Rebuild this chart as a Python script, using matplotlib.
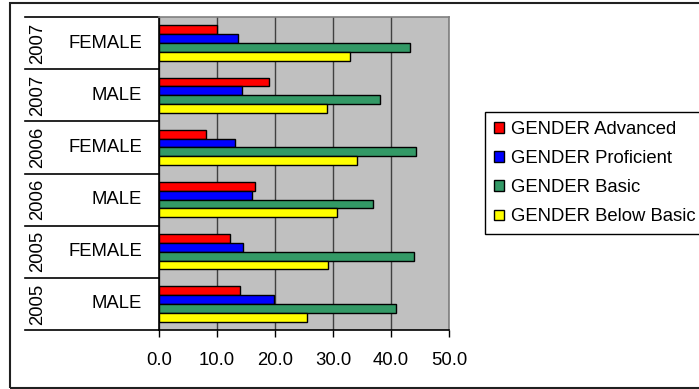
import numpy as np
import matplotlib
matplotlib.use("Agg")
import matplotlib.pyplot as plt
from matplotlib.patches import Rectangle

# Categories, bottom to top
years = ["2005", "2005", "2006", "2006", "2007", "2007"]
genders = ["MALE", "FEMALE", "MALE", "FEMALE", "MALE", "FEMALE"]

# Percent of students at each level
advanced = [14.0, 12.2, 16.5, 8.2, 19.0, 10.0]
proficient = [19.9, 14.5, 16.0, 13.2, 14.3, 13.7]
basic = [40.8, 44.0, 36.8, 44.2, 38.0, 43.3]
below_basic = [25.5, 29.2, 30.7, 34.2, 29.0, 33.0]

series = [
    ("GENDER Advanced", advanced, "#FF0000"),
    ("GENDER Proficient", proficient, "#0000FF"),
    ("GENDER Basic", basic, "#339966"),
    ("GENDER Below Basic", below_basic, "#FFFF00"),
]

plt.rcParams.update({
    "font.family": ["Liberation Sans", "DejaVu Sans"],
    "font.size": 13.3,
})

W, H = 699, 389
fig = plt.figure(figsize=(W / 100, H / 100), dpi=100)

# outer chart border
fig.patches.append(Rectangle((10 / W, 1 - 388 / H), (720 - 10) / W, (388 - 3) / H,
                             transform=fig.transFigure, fill=False,
                             edgecolor="#202020", linewidth=1.5))

x0, x1, y0, y1 = 158.7, 449.3, 17, 330
ax = fig.add_axes([x0 / W, 1 - y1 / H, (x1 - x0) / W, (y1 - y0) / H])
ax.set_facecolor("#C0C0C0")

n = len(years)
pos = np.arange(n) + 0.5
bh = 0.17
offsets = [1.5 * bh, 0.5 * bh, -0.5 * bh, -1.5 * bh]
for (label, vals, color), off in zip(series, offsets):
    ax.barh(pos + off, vals, height=bh, color=color, edgecolor="black",
            linewidth=1, label=label, zorder=3)

ax.set_xlim(0, 50)
ax.set_ylim(0, n)
ax.set_xticks(np.arange(0, 51, 10))
ax.set_xticklabels([f"{v:.1f}" for v in range(0, 51, 10)])
ax.set_yticks([])
ax.tick_params(axis="x", direction="out", length=5, width=1, pad=11)
ax.grid(axis="x", color="#404040", linewidth=1, zorder=1)
ax.set_axisbelow(True)

for side in ("left", "bottom"):
    ax.spines[side].set_color("black")
    ax.spines[side].set_linewidth(1.2)
for side in ("top", "right"):
    ax.spines[side].set_color("#808080")
    ax.spines[side].set_linewidth(1.2)

# two-level category axis: year (rotated) and gender
tr = ax.get_yaxis_transform()
left_edge = (25 - x0) / (x1 - x0)
for b in range(n + 1):
    ax.plot([left_edge, 0], [b, b], color="black", linewidth=1.2,
            transform=tr, clip_on=False)
year_x = (38 - x0) / (x1 - x0)
gender_x = (142 - x0) / (x1 - x0)
for i in range(n):
    ax.text(year_x, pos[i], years[i], rotation=90, ha="center", va="center",
            transform=tr)
    ax.text(gender_x, pos[i], genders[i], ha="right", va="center",
            transform=tr)

leg = fig.legend(loc="upper left", bbox_to_anchor=(485 / W, 1 - 112 / H),
                 bbox_transform=fig.transFigure, borderaxespad=0,
                 fancybox=False, framealpha=1, edgecolor="black",
                 handlelength=0.55, handleheight=0.5, handletextpad=0.4,
                 labelspacing=0.66, borderpad=0.48)
leg.get_frame().set_linewidth(1)

fig.savefig("out.png", dpi=100)
